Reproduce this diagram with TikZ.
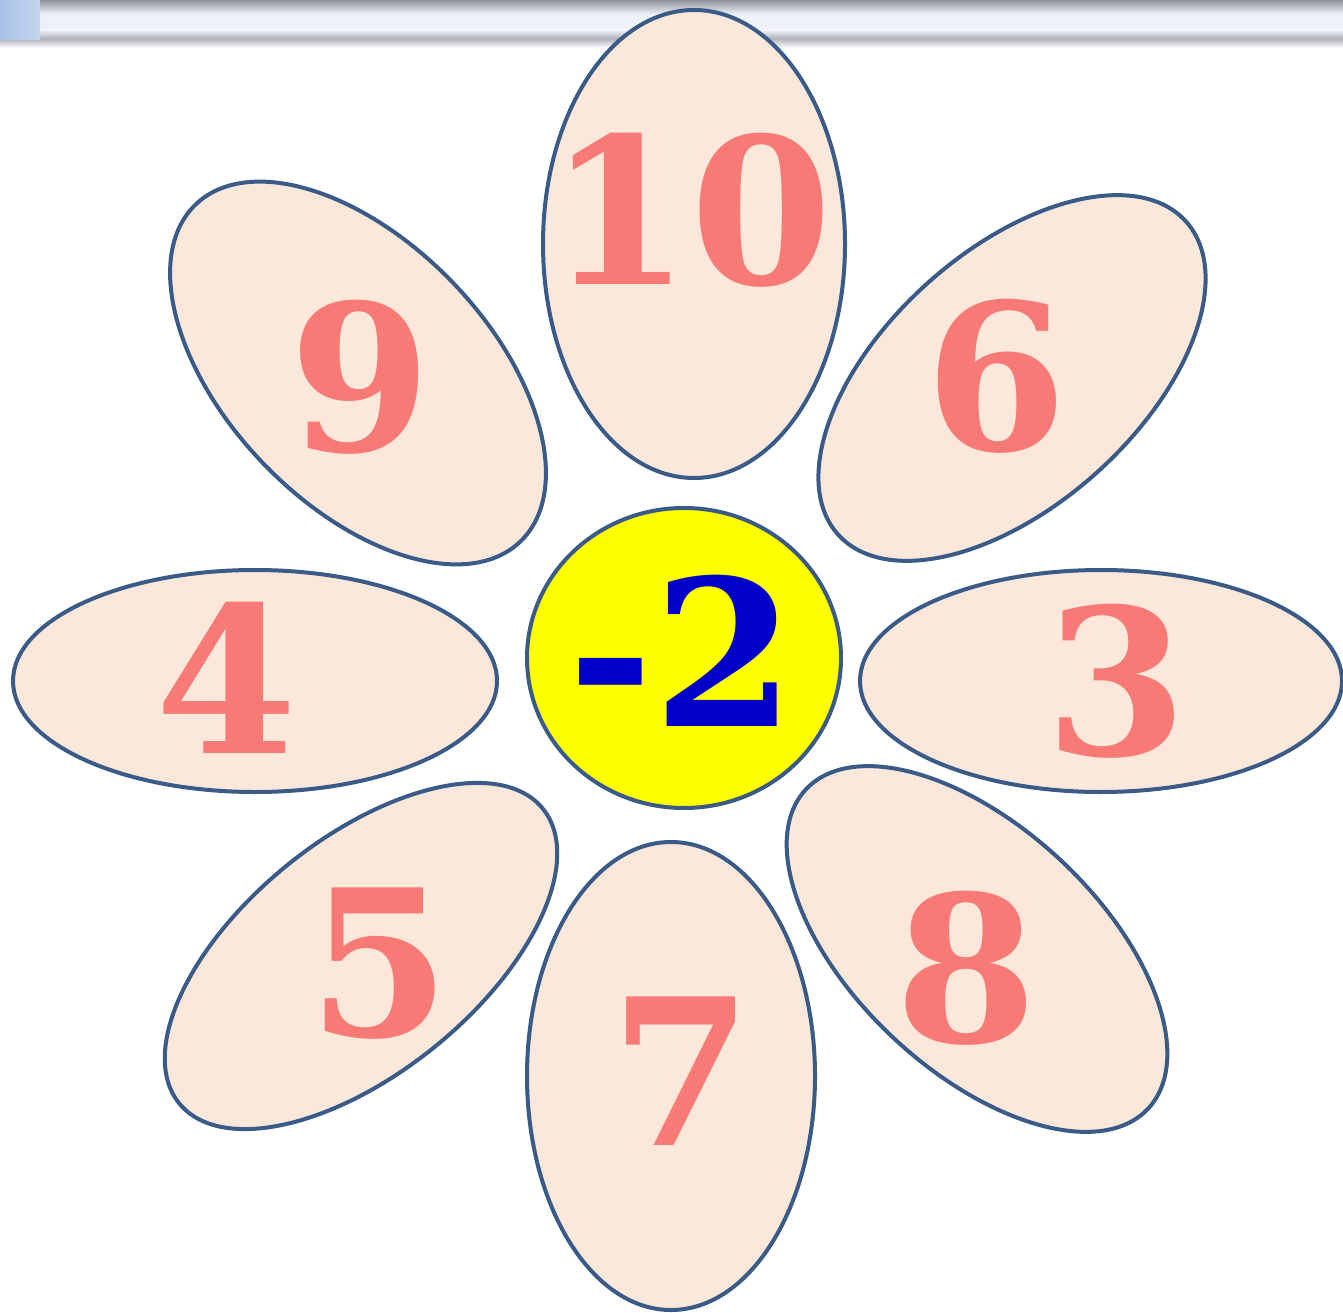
\documentclass[tikz,border=0pt]{standalone}
\usepackage{fontspec}
\setmainfont{DejaVu Serif}
\usetikzlibrary{shapes.geometric}
\definecolor{edgeblue}{HTML}{3A5A88}
\definecolor{petalfill}{HTML}{FCE8DA}
\definecolor{numred}{HTML}{F77A76}
\definecolor{centerblue}{HTML}{0000C8}
\definecolor{centeryellow}{HTML}{FFFF00}
\definecolor{bargray}{HTML}{8E929C}
\definecolor{barlight}{HTML}{EEF1F8}
\definecolor{barblue}{HTML}{A9C3E6}
\newlength\pxu
\setlength\pxu{0.01cm}
\begin{document}
\begin{tikzpicture}[x=0.01cm,y=-0.01cm,
  petal/.style={ellipse,draw=edgeblue,line width=4\pxu,fill=petalfill,inner sep=0pt,outer sep=0pt},
  num/.style={text=numred,font=\fontsize{58}{60}\selectfont\bfseries,inner sep=0pt},
  centre/.style={ellipse,draw=edgeblue,line width=4\pxu,fill=centeryellow,inner sep=0pt,minimum width=314\pxu,minimum height=300\pxu}]
\useasboundingbox (0,0) rectangle (1343,1313);
\fill[white] (0,0) rectangle (1343,1313);
% window bar at top
\shade[top color=bargray,bottom color=barlight] (0,0) rectangle (1343,14);
\fill[barlight] (0,14) rectangle (1343,30);
\shade[top color=barlight,bottom color=bargray!80] (0,30) rectangle (1343,40);
\shade[top color=bargray!60,bottom color=white] (0,40) rectangle (1343,48);
\shade[left color=barblue,right color=barblue!70] (0,0) rectangle (40,40);
% petals
\node[petal,minimum width=302\pxu,minimum height=468\pxu] (p10) at (694,244) {};
\node[petal,minimum width=288\pxu,minimum height=468\pxu] (p7) at (671,1076) {};
\node[petal,minimum width=484\pxu,minimum height=222\pxu] (p4) at (255,681) {};
\node[petal,minimum width=482\pxu,minimum height=222\pxu] (p3) at (1101,681) {};
\node[petal,minimum width=468\pxu,minimum height=262\pxu,rotate=-46] (p9) at (358,373) {};
\node[petal,minimum width=468\pxu,minimum height=254\pxu,rotate=42] (p6) at (1012,378) {};
\node[petal,minimum width=468\pxu,minimum height=234\pxu,rotate=39] (p5) at (361,956) {};
\node[petal,minimum width=468\pxu,minimum height=244\pxu,rotate=-43] (p8) at (977,949) {};
\node[centre] (c) at (684,658) {};
% numbers
\node[num] (t10) at (690,210) {10};
\node[num] (t9) at (360,377) {9};
\node[num] (t6) at (996,376) {6};
\node[num] (t4) at (226,678) {4};
\node[num] (t3) at (1116,681) {3};
\node[num] (t5) at (379,964) {5};
\node[num] (t7) at (681,1071) {7};
\node[num] (t8) at (966,968) {8};
\node[num,text=centerblue] (tc) at (682,651) {-2};
\end{tikzpicture}
\end{document}
